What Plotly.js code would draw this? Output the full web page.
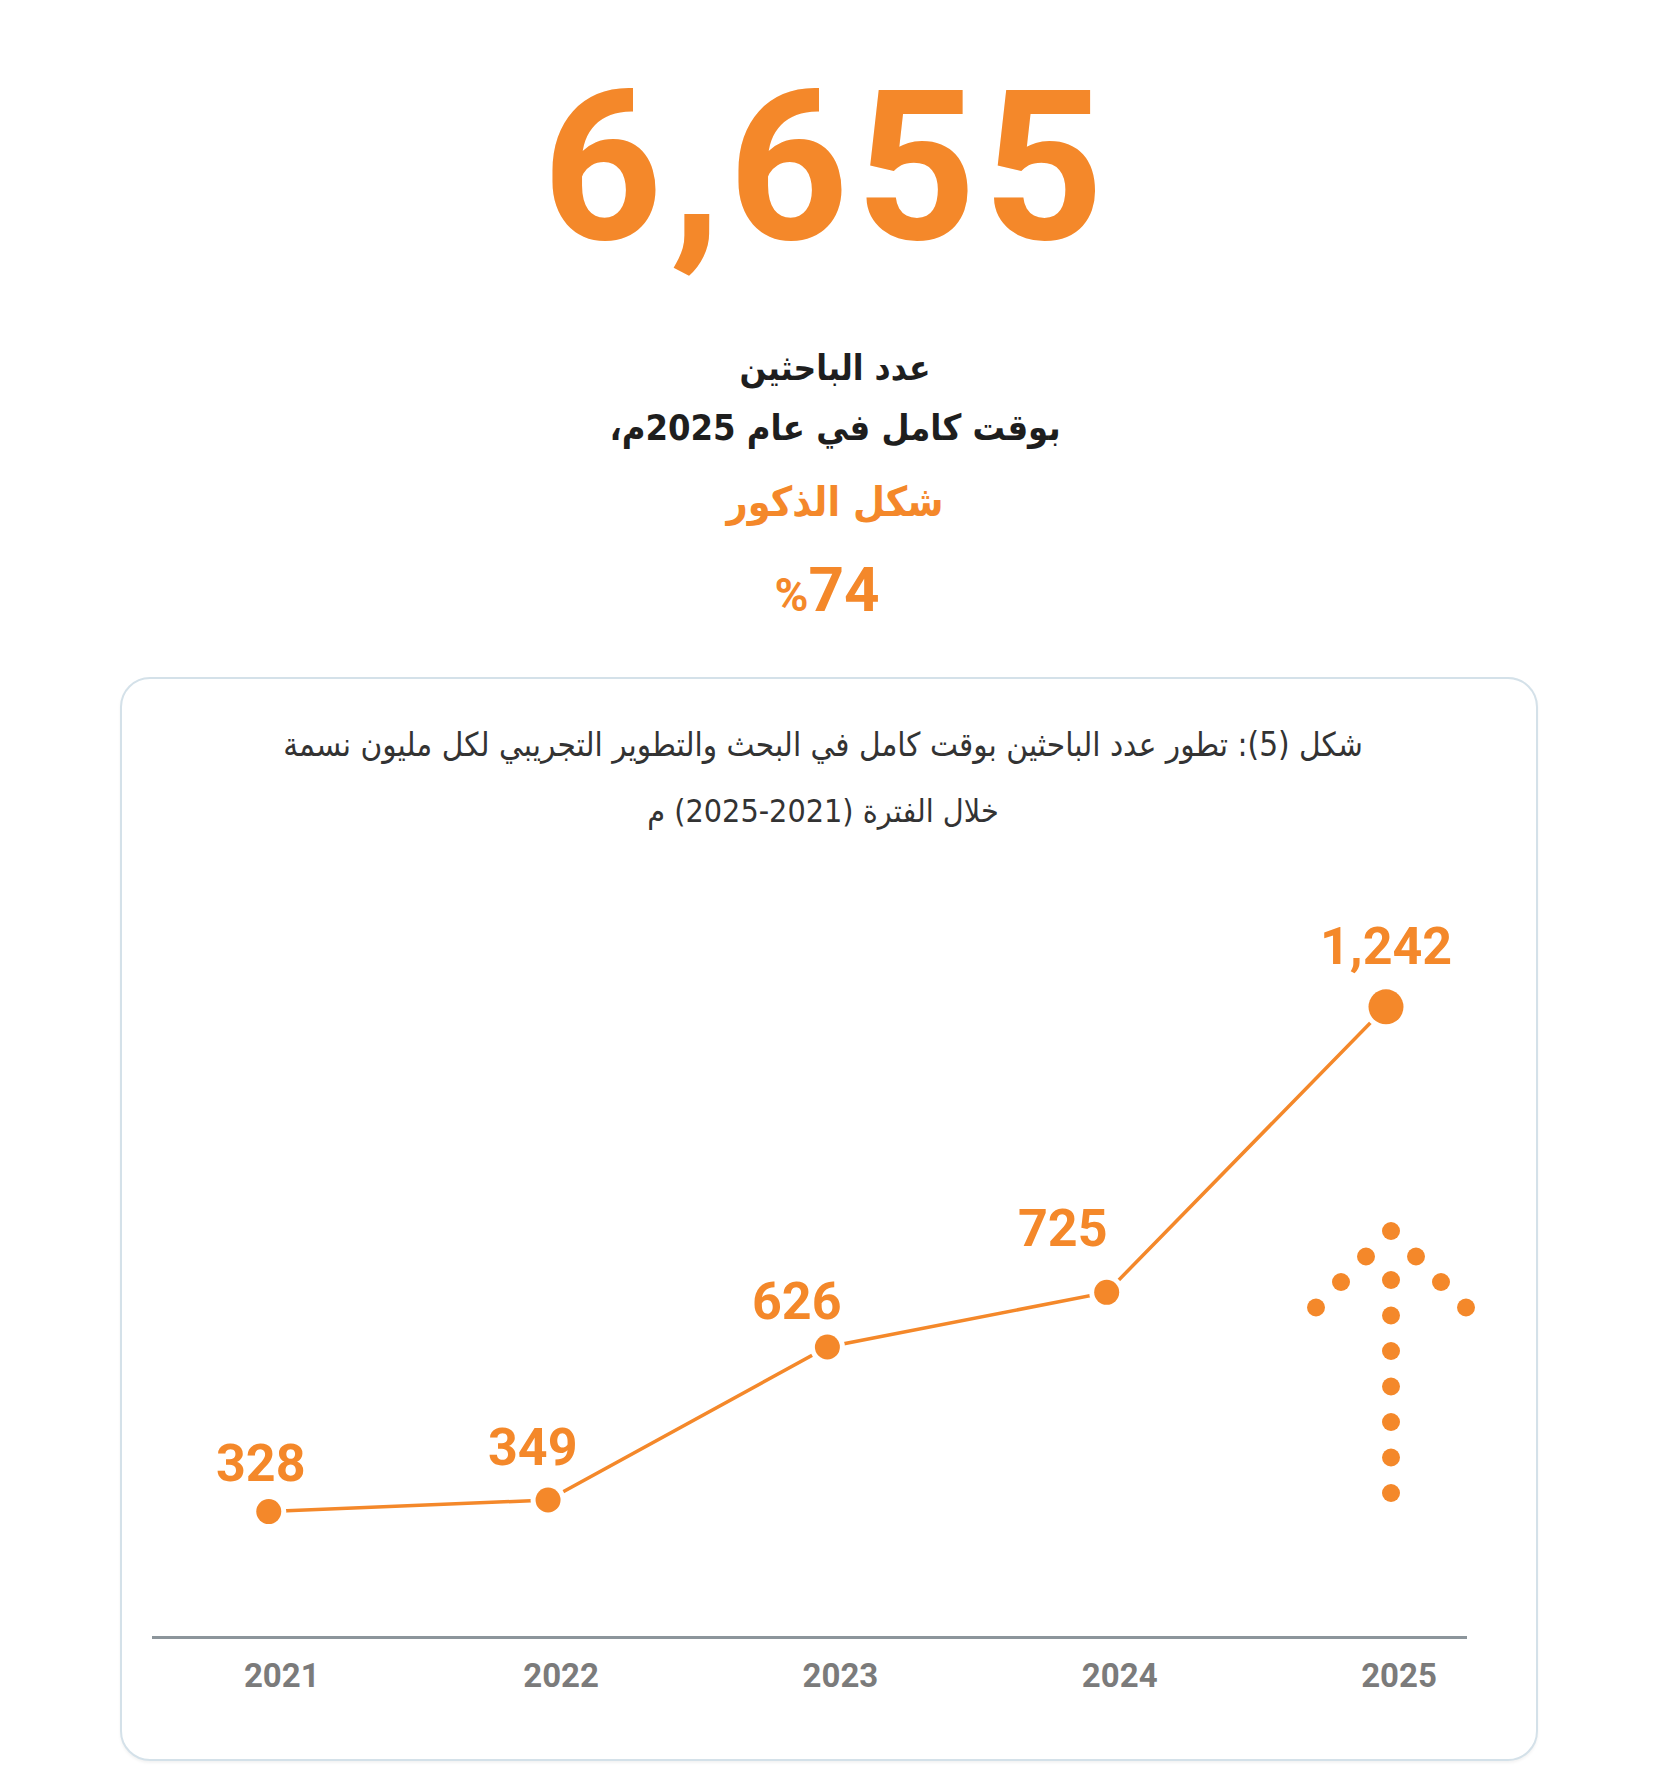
<!DOCTYPE html>
<html>
<head>
<meta charset="utf-8">
<script src="https://cdn.plot.ly/plotly-3.0.1.min.js"></script>
<style>
  html, body { margin:0; padding:0; background:#ffffff; }
  #page { position:relative; width:1654px; height:1792px; overflow:hidden; background:#fff; }
  .txt { position:absolute; left:0; width:1654px; text-align:center; white-space:nowrap; }
  #big { font-family:Roboto, "Open Sans", sans-serif; font-weight:700; font-size:210px; line-height:210px; letter-spacing:7px; text-indent:7px; color:#f4882a; top:62px; left:-4px; }
  .ar { font-family:"DejaVu Sans Condensed","DejaVu Sans",sans-serif; direction:rtl; unicode-bidi:plaintext; }
  #l1 { font-weight:700; font-size:35px; line-height:50px; color:#1e1e1e; top:343px; left:8px; }
  #l2 { font-weight:700; font-size:36px; line-height:50px; color:#1e1e1e; top:403px; left:8px; }
  #l3 { font-weight:700; font-size:41px; line-height:56px; color:#f4882a; top:474px; left:8px; }
  #l4 { font-family:Roboto, sans-serif; font-weight:700; font-size:62px; line-height:70px; color:#f4882a; top:555px; }
  #card { position:absolute; left:120px; top:677px; width:1418px; height:1084px; box-sizing:border-box;
          border:2px solid #d4e1e9; border-radius:30px; box-shadow:0 2px 3px rgba(0,0,0,0.05); background:#fff; }
  #ct1 { font-size:33px; line-height:40px; color:#333; top:725px; left:0; width:1646px; }
  #ct2 { font-size:32px; line-height:40px; color:#333; top:791px; left:0; width:1646px; }
  #chart { position:absolute; left:0; top:0; width:1654px; height:1792px; }
</style>
</head>
<body>
<div id="page">
  <div id="big" class="txt">6,655</div>
  <div id="l1" class="txt ar">عدد الباحثين</div>
  <div id="l2" class="txt ar">بوقت كامل في عام 2025م،</div>
  <div id="l3" class="txt ar">شكل الذكور</div>
  <div id="l4" class="txt"><span style="font-size:46px">%</span>74</div>
  <div id="card"></div>
  <div id="ct1" class="txt ar">شكل (5): تطور عدد الباحثين بوقت كامل في البحث والتطوير التجريبي لكل مليون نسمة</div>
  <div id="ct2" class="txt ar">خلال الفترة (2021-2025) م</div>
  <div id="chart"></div>
</div>
<script>
// ---- data ----
const years = [2021, 2022, 2023, 2024, 2025];
const tickLabels = ["2021", "2022", "2023", "2024", "2025"];
const researchersPerMillion = [328, 349, 626, 725, 1242];

// ---- styling ----
const ORANGE = "#f4882a";
const labelShift = [[-8, 48], [-15, 52], [-30, 46], [-44, 64], [0, 60]];
const dotSizes = [25, 25, 25, 25, 35];
const haloSizes = dotSizes.map(s => s + 10);

const annotations = years.map((yr, i) => ({
  x: yr, y: researchersPerMillion[i], xref: "x", yref: "y",
  text: researchersPerMillion[i].toLocaleString("en-US"),
  showarrow: false, xanchor: "center", yanchor: "middle",
  xshift: labelShift[i][0], yshift: labelShift[i][1],
  font: { family: "Roboto, sans-serif", size: 52, color: ORANGE, weight: 700 }
}));

// plot-area geometry (pixels)
const plotL = 152, plotR = 1467, plotT = 900, plotB = 1636;

// decorative dotted up-arrow, laid out in pixels
const px2x = p => (p - plotL) / (plotR - plotL);
const px2y = p => (plotB - p) / (plotB - plotT);
const arrowDots = [];
const apexX = 1391, apexY = 1231;
arrowDots.push([apexX, apexY]);
for (let k = 1; k <= 3; k++) {
  arrowDots.push([apexX - 25 * k, apexY + 25.5 * k]);
  arrowDots.push([apexX + 25 * k, apexY + 25.5 * k]);
}
for (let k = 0; k < 7; k++) arrowDots.push([apexX, 1280 + 35.5 * k]);
const shapes = arrowDots.map(d => ({
  type: "circle", xref: "paper", yref: "paper",
  xsizemode: "pixel", ysizemode: "pixel",
  xanchor: px2x(d[0]), yanchor: px2y(d[1]),
  x0: -9, x1: 9, y0: -9, y1: 9,
  fillcolor: ORANGE, line: { width: 0 }, layer: "above"
}));

const lineTrace = {
  x: years, y: researchersPerMillion, type: "scatter", mode: "lines",
  line: { color: ORANGE, width: 3.5 }, hoverinfo: "skip", cliponaxis: false
};
const haloTrace = {
  x: years, y: researchersPerMillion, type: "scatter", mode: "markers",
  marker: { color: "#ffffff", size: haloSizes, opacity: 1, line: { width: 0 } },
  hoverinfo: "skip", cliponaxis: false
};
const dotTrace = {
  x: years, y: researchersPerMillion, type: "scatter", mode: "markers",
  marker: { color: ORANGE, size: dotSizes, opacity: 1, line: { width: 0 } },
  hoverinfo: "skip", cliponaxis: false
};

const layout = {
  width: 1654, height: 1792,
  margin: { l: plotL, r: 1654 - plotR, t: plotT, b: 1792 - plotB, pad: 0 },
  paper_bgcolor: "rgba(0,0,0,0)", plot_bgcolor: "rgba(0,0,0,0)",
  showlegend: false,
  xaxis: {
    range: [2020.582, 2025.290], tickvals: years, ticktext: tickLabels,
    showgrid: false, zeroline: false, showline: true, linecolor: "#8c959b", linewidth: 3,
    ticks: "", ticklabelstandoff: 8, ticklabelshift: 13,
    tickfont: { family: "Roboto, sans-serif", size: 33, color: "#7b7b7b", weight: 700 },
    fixedrange: true
  },
  yaxis: { range: [102.7, 1435.5], visible: false, fixedrange: true },
  annotations: annotations,
  shapes: shapes
};

Plotly.newPlot("chart", [lineTrace, haloTrace, dotTrace], layout, { displayModeBar: false, staticPlot: true });
</script>
</body>
</html>
